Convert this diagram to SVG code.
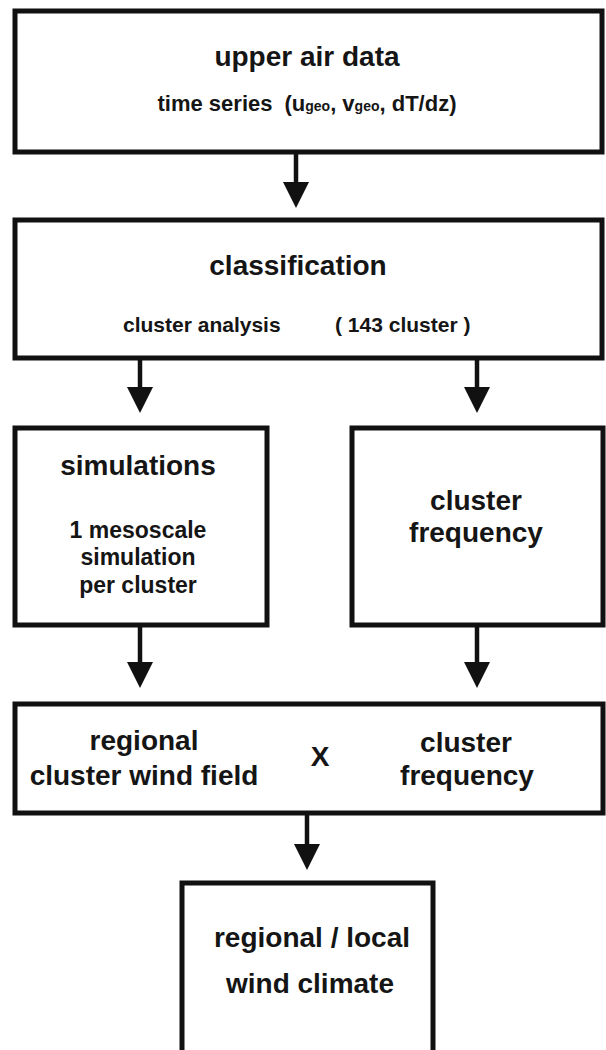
<svg xmlns="http://www.w3.org/2000/svg" width="606" height="1050" viewBox="0 0 606 1050">
<defs>
<style>
.box{fill:#fff;stroke:#111;stroke-width:5}
.t{font-family:"Liberation Sans",Arial,Helvetica,sans-serif;font-weight:bold;fill:#151515;text-anchor:middle}
.l{text-anchor:start}
.h{font-size:28px}
.m{font-size:23px}
.s{font-size:21px}
.ts{font-size:22px}
.sub{font-size:14px}
.c{fill:none;stroke:#111;stroke-width:4.5}
</style>
<marker id="ah" markerUnits="userSpaceOnUse" markerWidth="26" markerHeight="26" viewBox="0 0 26 26" refX="4" refY="13" orient="auto">
<path d="M0,0 L26,13 L0,26 z" fill="#111"/>
</marker>
</defs>
<rect width="606" height="1050" fill="#fff"/>
<g id="connectors">
<path class="c" d="M296,152 V186" marker-end="url(#ah)"/>
<path class="c" d="M140,358 V391" marker-end="url(#ah)"/>
<path class="c" d="M477,358 V391" marker-end="url(#ah)"/>
<path class="c" d="M140,625 V666" marker-end="url(#ah)"/>
<path class="c" d="M477,625 V666" marker-end="url(#ah)"/>
<path class="c" d="M307,813 V848" marker-end="url(#ah)"/>
</g>
<g id="upper-air-data">
<rect class="box" x="15" y="11" width="587" height="141"/>
<text class="t h" x="307" y="66">upper air data</text>
<text class="t ts" x="307" y="111">time series<tspan dx="12">(u</tspan><tspan class="sub">geo</tspan>, v<tspan class="sub">geo</tspan>, dT/dz)</text>
</g>
<g id="classification">
<rect class="box" x="15" y="220" width="587" height="138"/>
<text class="t h" x="298" y="275">classification</text>
<text class="t s l" x="123" y="332">cluster analysis</text>
<text class="t s l" x="335" y="332">( 143 cluster )</text>
</g>
<g id="simulations">
<rect class="box" x="15" y="428" width="252" height="197"/>
<text class="t h" x="138" y="475">simulations</text>
<text class="t m" x="138" y="538">1 mesoscale</text>
<text class="t m" x="138" y="565">simulation</text>
<text class="t m" x="138" y="593">per cluster</text>
</g>
<g id="cluster-frequency">
<rect class="box" x="352" y="428" width="251" height="197"/>
<text class="t h" x="476" y="510">cluster</text>
<text class="t h" x="476" y="542">frequency</text>
</g>
<g id="combination">
<rect class="box" x="15" y="704" width="588" height="109"/>
<text class="t h" x="144" y="750">regional</text>
<text class="t h" x="144" y="785">cluster wind field</text>
<text class="t h" x="320" y="766">X</text>
<text class="t h" x="466" y="752">cluster</text>
<text class="t h" x="467" y="785">frequency</text>
</g>
<g id="wind-climate">
<rect class="box" x="182" y="883" width="251" height="190"/>
<text class="t h" x="312" y="947">regional / local</text>
<text class="t h" x="310" y="993">wind climate</text>
</g>
</svg>
